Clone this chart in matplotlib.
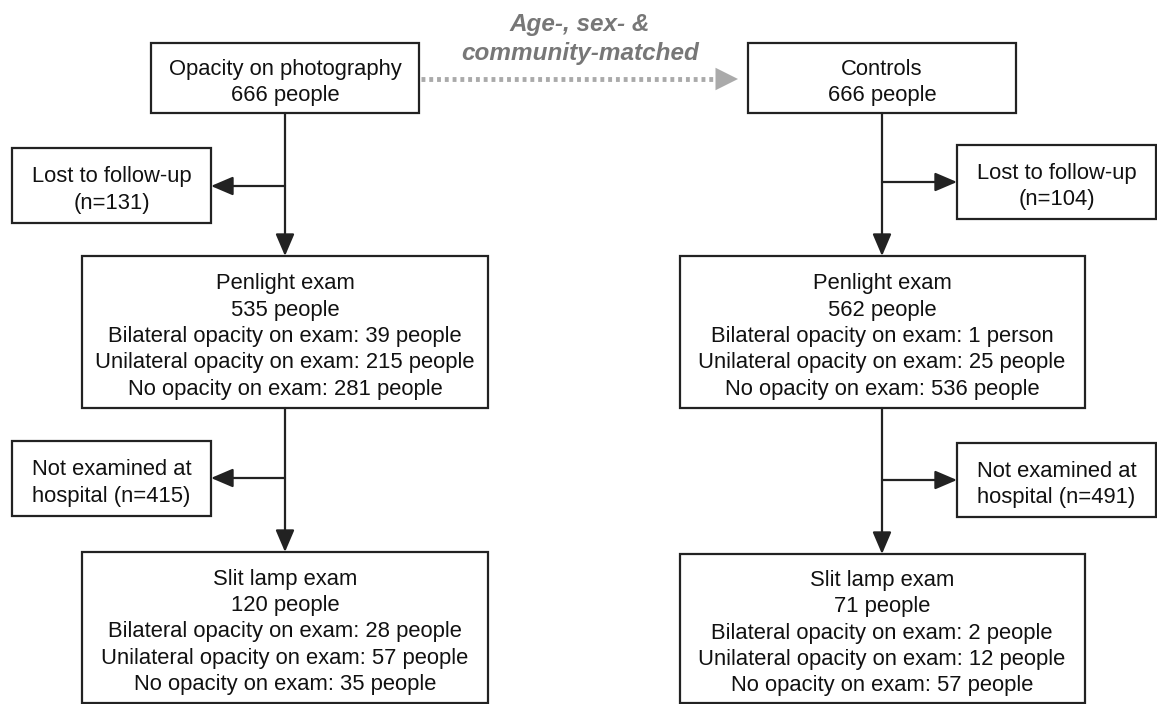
import matplotlib
matplotlib.use("Agg")
from matplotlib import pyplot as plt
from matplotlib.patches import Rectangle

plt.rcParams['font.family'] = ['Liberation Sans', 'DejaVu Sans']

# flow counts, [cases, controls]
arms = ["Opacity on photography", "Controls"]
enrolled = [666, 666]
lost = [131, 104]
penlight = [535, 562]
pen_bilateral = [39, 1]
pen_unilateral = [215, 25]
pen_none = [281, 536]
not_examined = [415, 491]
slit = [120, 71]
slit_bilateral = [28, 2]
slit_unilateral = [57, 12]
slit_none = [35, 57]
match_label = "Age-, sex- &\ncommunity-matched"


def ppl(n):
    return "%d person" % n if n == 1 else "%d people" % n


W, H = 1157, 704
fig = plt.figure(figsize=(W / 100, H / 100), dpi=100)
ax = fig.add_axes([0, 0, 1, 1])
ax.set_xlim(0, W)
ax.set_ylim(H, 0)
ax.axis('off')

FS = 15.8
LS = 1.33
lw = 1.6


def box(x0, y0, x1, y1, text):
    ax.add_patch(Rectangle((x0, y0), x1 - x0, y1 - y0, fill=False,
                           edgecolor='#222222', linewidth=lw, zorder=3))
    ax.text((x0 + x1) / 2, (y0 + y1) / 2 + 4.5, text, ha='center', va='center',
            fontsize=FS, linespacing=LS, color='#111111', zorder=4)


def arrow(x0, y0, x1, y1):
    ax.annotate("", xy=(x1, y1), xytext=(x0, y0),
                arrowprops=dict(arrowstyle='-|>,head_length=0.75,head_width=0.32',
                                mutation_scale=18, color='#222222', lw=lw,
                                shrinkA=0, shrinkB=0), zorder=2)


cx = [285, 882]
top_half = 134
mid_half = [203, 202.5]
side = [(12, 211), (957, 1156)]
lost_y = [(148, 223), (145, 219)]
lost_ay = [186, 182]
nex_y = [(441, 516), (443, 517)]
nex_ay = [478, 480]
slit_top = [552, 554]

for i in range(2):
    c = cx[i]
    box(c - top_half, 43, c + top_half, 113, arms[i] + "\n" + ppl(enrolled[i]))
    box(c - mid_half[i], 256, c + mid_half[i], 408,
        "Penlight exam\n" + ppl(penlight[i]) +
        "\nBilateral opacity on exam: " + ppl(pen_bilateral[i]) +
        "\nUnilateral opacity on exam: " + ppl(pen_unilateral[i]) +
        "\nNo opacity on exam: " + ppl(pen_none[i]))
    box(c - mid_half[i], slit_top[i], c + mid_half[i], 703,
        "Slit lamp exam\n" + ppl(slit[i]) +
        "\nBilateral opacity on exam: " + ppl(slit_bilateral[i]) +
        "\nUnilateral opacity on exam: " + ppl(slit_unilateral[i]) +
        "\nNo opacity on exam: " + ppl(slit_none[i]))
    sx0, sx1 = side[i]
    box(sx0, lost_y[i][0], sx1, lost_y[i][1],
        "Lost to follow-up\n(n=%d)" % lost[i])
    box(sx0, nex_y[i][0], sx1, nex_y[i][1],
        "Not examined at\nhospital (n=%d)" % not_examined[i])

    edge = sx1 if i == 0 else sx0
    arrow(c, 113, c, 256)
    arrow(c, lost_ay[i], edge, lost_ay[i])
    arrow(c, 408, c, slit_top[i])
    arrow(c, nex_ay[i], edge, nex_ay[i])

# matching arrow between the two arms
ax.plot([cx[0] + top_half + 2, 722], [79, 79], color='#aaaaaa', lw=3.5,
        linestyle=(0, (0.8, 0.8)), solid_capstyle='butt', zorder=1)
ax.annotate("", xy=(cx[1] - top_half - 10, 79), xytext=(715, 79),
            arrowprops=dict(arrowstyle='-|>,head_length=0.9,head_width=0.45',
                            mutation_scale=18, color='#aaaaaa', lw=0,
                            shrinkA=0, shrinkB=0))
ax.text(580, 39, match_label, ha='center', va='center', fontsize=17.5,
        fontweight='bold', fontstyle='italic', color='#777777', linespacing=1.28)

fig.savefig("out.png", dpi=100)
